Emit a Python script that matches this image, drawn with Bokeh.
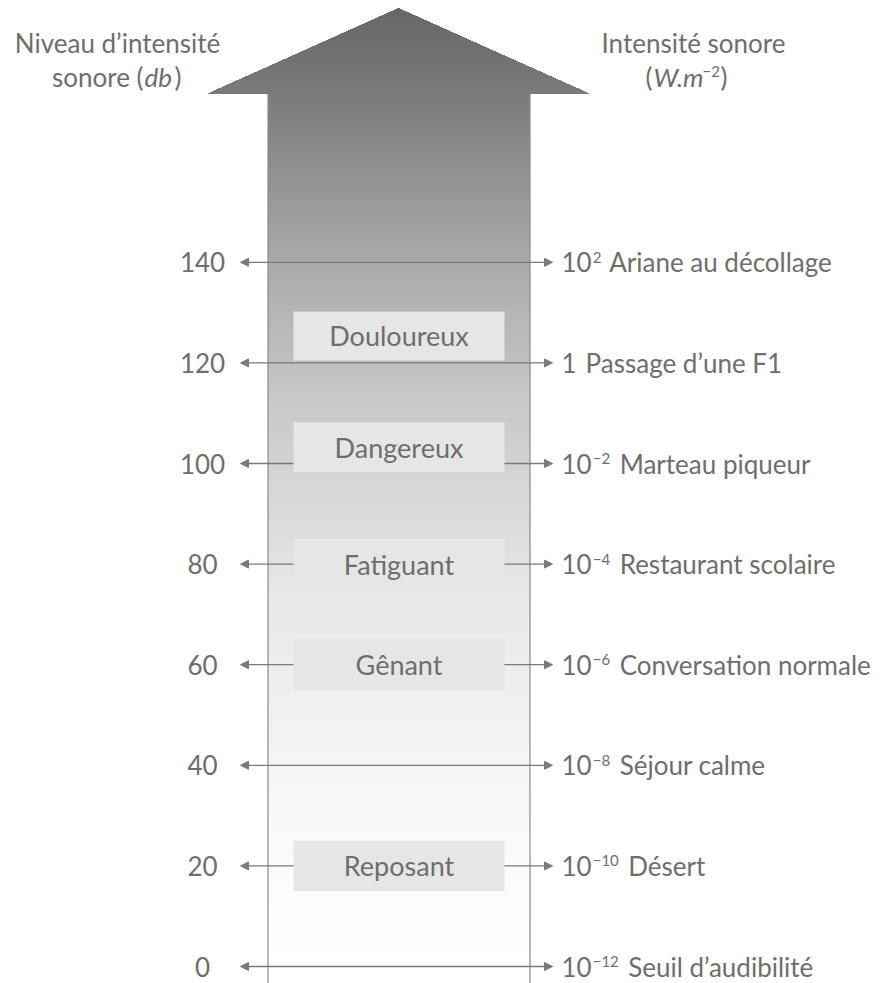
import numpy as np
from bokeh.plotting import figure
from bokeh.models import Range1d, Arrow, NormalHead, ColumnDataSource
from bokeh.embed import file_html
from bokeh.resources import INLINE
from bokeh.core.properties import value

# ---------------- data ----------------
levels_db = [0, 20, 40, 60, 80, 100, 120, 140]
level_labels = ["0", "20", "40", "60", "80", "100", "120", "140"]
intensity_base = ["10", "10", "10", "10", "10", "10", "1", "10"]
intensity_exp = ["\u221212", "\u221210", "\u22128", "\u22126", "\u22124", "\u22122", "", "2"]
examples = ["Seuil d\u2019audibilit\u00e9", "D\u00e9sert", "S\u00e9jour calme",
            "Conversation normale", "Restaurant scolaire", "Marteau piqueur",
            "Passage d\u2019une F1", "Ariane au d\u00e9collage"]
zone_names = ["Reposant", "G\u00eanant", "Fatiguant", "Dangereux", "Douloureux"]
zone_bottom = [15, 55, 75, 98.3, 120.5]
zone_top = [25, 65, 85, 108.2, 130.2]

# ---------------- layout / style ----------------
W, H = 882, 983
PX0 = 966.0      # image row of 0 dB
S = 5.03         # pixels per dB


def ydb(py):
    return (PX0 - py) / S


TXT = "#6e6e6e"
LINE = "#7a7a7a"
FONT = value("Lato")

p = figure(width=W, height=H, output_backend="svg", toolbar_location=None,
           x_range=Range1d(0, W), y_range=Range1d(ydb(H), ydb(0)),
           min_border=0)
p.axis.visible = False
p.grid.visible = False
p.outline_line_color = None
p.background_fill_color = "white"
p.border_fill_color = "white"

# ---------------- gradient arrow ----------------
BX0, BX1 = 267.5, 529.5
HB, HT = 93.0, 8.0
HX0, HX1, HXC = 208.0, 588.0, 398.0
anchor_px = [8, 93, 260, 400, 600, 800, 960]
anchor_gray = [102, 122, 169, 200, 232, 248, 255]

xs, ys, cols = [], [], []
for py in np.arange(H, HT + 0.5, -2.5):
    g = int(round(np.interp(py, anchor_px, anchor_gray)))
    if py > HB:
        px = [BX0, BX1, BX1, HX1, HXC, HX0, BX0]
        pyy = [py, py, HB, HB, HT, HB, HB]
    else:
        w = (HX1 - HX0) / 2 * (py - HT) / (HB - HT)
        px = [HXC - w, HXC + w, HXC]
        pyy = [py, py, HT]
    xs.append(px)
    ys.append([ydb(v) for v in pyy])
    cols.append("#%02x%02x%02x" % (g, g, g))
p.patches(xs=xs, ys=ys, fill_color=cols, line_color=None)

# body borders
p.segment(x0=[BX0, BX1], x1=[BX0, BX1], y0=[ydb(H)] * 2, y1=[ydb(HB)] * 2,
          line_color="#8a8a8a", line_width=1.2)

# ---------------- zone boxes ----------------
ZX0, ZX1 = 293.0, 504.0
p.quad(left=ZX0, right=ZX1, bottom=zone_bottom, top=zone_top,
       fill_color="#e6e6e6", line_color=None)
zc = [(b + t) / 2 for b, t in zip(zone_bottom, zone_top)]
p.text(x=(ZX0 + ZX1) / 2, y=zc, text=zone_names, text_font=FONT,
       text_font_size="27px", text_color=TXT, text_align="center",
       text_baseline="middle")

# ---------------- level arrows ----------------
LT, RT = 240.0, 552.0
full = dict(xs=[], xe=[], y=[])
half = dict(xs=[], xe=[], y=[])
for lv in levels_db:
    cov = [i for i, (b, t) in enumerate(zip(zone_bottom, zone_top)) if b <= lv <= t]
    if cov:
        half["xs"] += [ZX0, ZX1]
        half["xe"] += [LT, RT]
        half["y"] += [lv, lv]
    else:
        full["xs"].append(LT)
        full["xe"].append(RT)
        full["y"].append(lv)


def head():
    return NormalHead(size=8, fill_color=LINE, line_color=LINE, line_width=1)


p.add_layout(Arrow(start=head(), end=head(), x_start="xs", y_start="y",
                   x_end="xe", y_end="y", line_color=LINE, line_width=1.3,
                   source=ColumnDataSource(full)))
p.add_layout(Arrow(end=head(), x_start="xs", y_start="y", x_end="xe", y_end="y",
                   line_color=LINE, line_width=1.3, source=ColumnDataSource(half)))

# ---------------- labels ----------------
p.text(x=202, y=levels_db, text=level_labels,
       text_font=FONT, text_font_size="26px", text_color=TXT,
       text_align="center", text_baseline="middle")

RX = 561.0
DIG = 15.1
exp_x = [RX + len(b) * DIG + 1 for b in intensity_base]
exp_w = [sum(10.5 if c == "\u2212" else 8.5 for c in e) for e in intensity_exp]
desc_x = [ex + ew + 8 for ex, ew in zip(exp_x, exp_w)]
exp_dy = 5.0 / S
p.text(x=RX, y=levels_db, text=intensity_base,
       text_font=FONT, text_font_size="26px", text_color=TXT,
       text_align="left", text_baseline="middle")
p.text(x=exp_x, y=[lv + exp_dy for lv in levels_db], text=intensity_exp, text_font=FONT,
       text_font_size="15px", text_color=TXT, text_align="left",
       text_baseline="middle")
p.text(x=desc_x, y=levels_db, text=examples,
       text_font=FONT, text_font_size="26px", text_color=TXT,
       text_align="left", text_baseline="middle")

# ---------------- titles ----------------
L1, L2 = ydb(42), ydb(76)
p.text(x=[117, 693], y=[L1, L1], text=["Niveau d\u2019intensit\u00e9", "Intensit\u00e9 sonore"],
       text_font=FONT, text_font_size="26px", text_color=TXT,
       text_align="center", text_baseline="middle")
# left line 2: sonore (db)
p.text(x=[143], y=[L2], text=["sonore ("], text_font=FONT, text_font_size="26px",
       text_color=TXT, text_align="right", text_baseline="middle")
p.text(x=[144], y=[L2], text=["db"], text_font=FONT, text_font_size="26px",
       text_font_style="italic", text_color=TXT, text_align="left",
       text_baseline="middle")
p.text(x=[174], y=[L2], text=[")"], text_font=FONT, text_font_size="26px",
       text_color=TXT, text_align="left", text_baseline="middle")
# right line 2: (W.m^-2)
p.text(x=[652], y=[L2], text=["("], text_font=FONT, text_font_size="26px",
       text_color=TXT, text_align="right", text_baseline="middle")
p.text(x=[653], y=[L2], text=["W.m"], text_font=FONT, text_font_size="26px",
       text_font_style="italic", text_color=TXT, text_align="left",
       text_baseline="middle")
p.text(x=[702], y=[L2 + exp_dy], text=["\u22122"], text_font=FONT, text_font_size="15px",
       text_color=TXT, text_align="left", text_baseline="middle")
p.text(x=[720], y=[L2], text=[")"], text_font=FONT, text_font_size="26px",
       text_color=TXT, text_align="left", text_baseline="middle")

open("out.html", "w").write(file_html(p, INLINE))
